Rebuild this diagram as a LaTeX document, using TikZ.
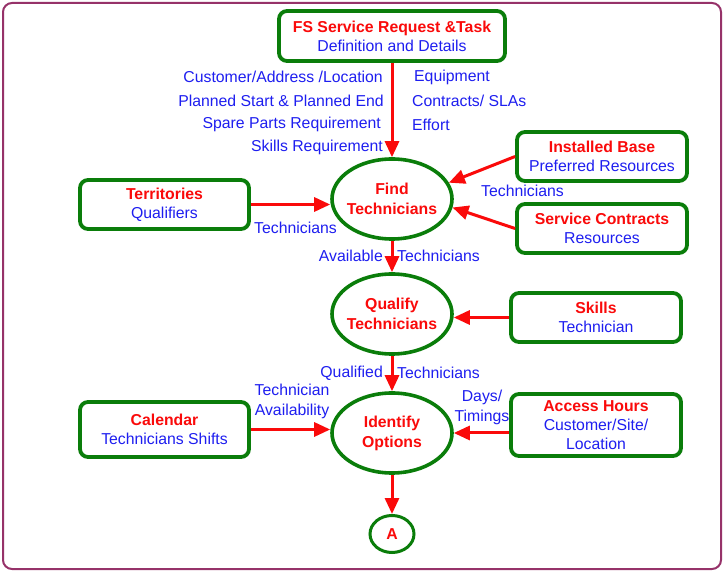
\documentclass[tikz,border=0pt]{standalone}
\usepackage{fontspec}
\setmainfont{Liberation Sans}
\usetikzlibrary{arrows.meta,shapes.geometric}
\definecolor{dgreen}{RGB}{10,125,10}
\definecolor{tred}{RGB}{250,10,10}
\definecolor{tblue}{RGB}{30,30,240}
\definecolor{frame}{RGB}{150,50,105}
\tikzset{
  x=1pt,y=-1pt,
  txt/.style={font=\fontsize{15.8}{19.5}\selectfont,text=tblue,inner sep=0pt},
  box/.style={draw=dgreen,line width=3.8pt,rounded corners=8pt,fill=white,align=center,
    font=\fontsize{15.8}{19}\selectfont,text=tblue,inner sep=0pt},
  proc/.style={draw=dgreen,line width=3.6pt,ellipse,align=center,inner xsep=-6pt,inner ysep=0pt,
    minimum width=120pt,minimum height=80pt,font=\fontsize{15.8}{20}\selectfont\bfseries,text=tred},
  flow/.style={draw=tred,line width=3pt,-{Triangle[length=16pt,width=14pt]}}
}
\newcommand{\ttlr}[1]{\textcolor{tred}{\bfseries #1}}
\begin{document}
\begin{tikzpicture}
\useasboundingbox (0,0) rectangle (724,572);
\draw[frame,line width=2pt,rounded corners=9pt,fill=white] (3,3) rectangle (721,569);

\node[box,minimum width=226pt,minimum height=50pt] (fs) at (392,36) {\ttlr{FS Service Request \&Task}\\Definition and Details};
\node[proc] (find) at (392,199) {Find\\Technicians};
\node[proc] (qual) at (392,314) {Qualify\\Technicians};
\node[proc] (iden) at (392,433) {Identify\\Options};
\node[draw=dgreen,line width=3pt,ellipse,minimum width=44pt,minimum height=37pt,inner sep=0pt,
  font=\fontsize{15.8}{19}\selectfont\bfseries,text=tred] (a) at (392,534) {A};

\node[box,minimum width=169pt,minimum height=49pt] (terr) at (164.5,204.5) {\ttlr{Territories}\\Qualifiers};
\node[box,minimum width=170pt,minimum height=49pt] (inst) at (602,156.5) {\ttlr{Installed Base}\\Preferred Resources};
\node[box,minimum width=170pt,minimum height=49pt] (serv) at (602,228.5) {\ttlr{Service Contracts}\\Resources};
\node[box,minimum width=170pt,minimum height=49pt] (skil) at (596,317.5) {\ttlr{Skills}\\Technician};
\node[box,minimum width=169pt,minimum height=55pt] (cal) at (164.5,429.5) {\ttlr{Calendar}\\Technicians Shifts};
\node[box,minimum width=170pt,minimum height=62pt] (acc) at (596,425) {\ttlr{Access Hours}\\Customer/Site/\\Location};

\draw[flow] (fs.south) -- (find.north);
\draw[flow] (terr.east) -- (terr.east -| find.west);
\draw[flow] (inst.west) -- (find.16);
\draw[flow] (serv.west) -- (find.-8);
\draw[flow] (find.south) -- (qual.north);
\draw[flow] (skil.west) -- (skil.west -| qual.east);
\draw[flow] (qual.south) -- (iden.north);
\draw[flow] (cal.east) -- (cal.east -| iden.west);
\draw[flow] (acc.west|-iden.east) -- (iden.east);
\draw[flow] (iden.south) -- (a.north);

\node[txt,anchor=east] (l1) at (383,77) {Customer/Address /Location};
\node[txt,anchor=east] (l2) at (384,101) {Planned Start \& Planned End};
\node[txt,anchor=east] (l3) at (381,124) {Spare Parts Requirement};
\node[txt,anchor=east] (l4) at (383,147) {Skills Requirement};
\node[txt,anchor=west] (r1) at (414,77) {Equipment};
\node[txt,anchor=west] (r2) at (412,101) {Contracts/ SLAs};
\node[txt,anchor=west] (r3) at (412,125) {Effort};
\node[txt,anchor=west] (t1) at (254,228) {Technicians};
\node[txt,anchor=west] (t2) at (481,191) {Technicians};
\node[txt,anchor=east] (av) at (383,256) {Available};
\node[txt,anchor=west] (av2) at (397,256) {Technicians};
\node[txt,anchor=east] (qu) at (383,373) {Qualified};
\node[txt,anchor=west] (qu2) at (397,373) {Technicians};
\node[txt,align=center] (ta) at (292,401.5) {Technician\\Availability};
\node[txt,align=center] (dt) at (482,407.5) {Days/\\Timings};
\end{tikzpicture}
\end{document}
